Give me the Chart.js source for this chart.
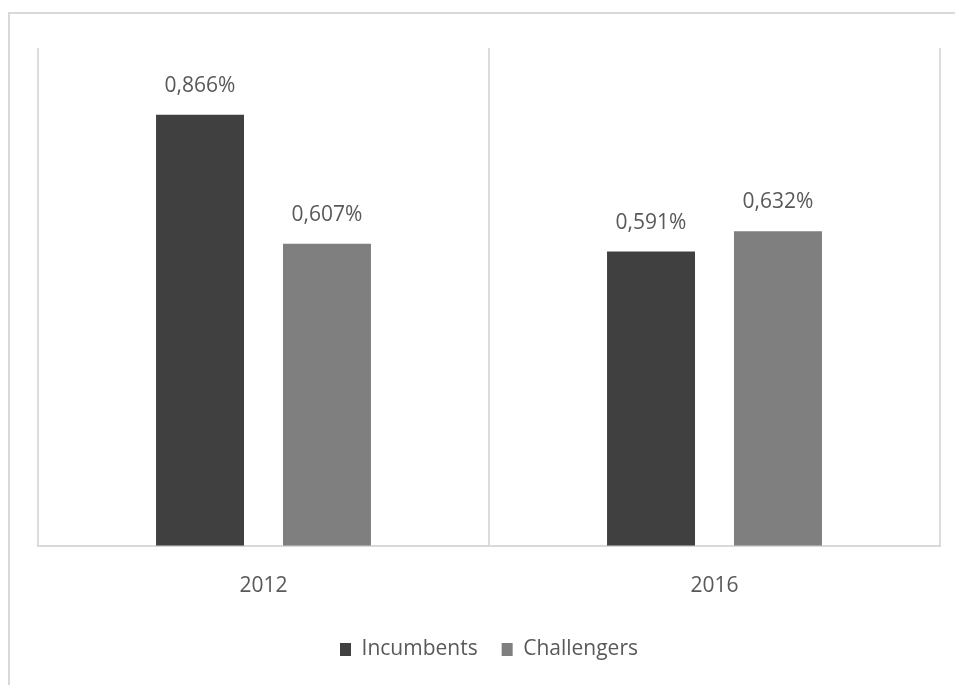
<!DOCTYPE html>
<html>
<head>
<meta charset="utf-8">
<script src="https://cdn.jsdelivr.net/npm/chart.js@4/dist/chart.umd.min.js"></script>
<style>
  html, body { margin: 0; padding: 0; background: #fff; }
  #frame {
    position: absolute; left: 8px; top: 12px; width: 947px; height: 673px;
    border-top: 2px solid #d9d9d9; border-left: 2px solid #d9d9d9;
  }
  #chart { position: absolute; left: 0; top: 0; }
</style>
</head>
<body>
<div id="frame"></div>
<canvas id="chart" width="955" height="685"></canvas>
<script>
// Share values (%) by election year
const years = ['2012', '2016'];
const incumbents = [0.866, 0.591];
const challengers = [0.607, 0.632];

const textColor = '#595959';
const fontFamily = '"Open Sans", sans-serif';

// Value labels above each bar, with a decimal comma
const barLabels = {
    id: 'barLabels',
    afterDatasetsDraw(chart) {
        const ctx = chart.ctx;
        ctx.save();
        ctx.font = '21px ' + fontFamily;
        ctx.fillStyle = textColor;
        ctx.textAlign = 'center';
        ctx.textBaseline = 'middle';
        chart.data.datasets.forEach((ds, i) => {
            chart.getDatasetMeta(i).data.forEach((bar, j) => {
                const text = ds.data[j].toFixed(3).replace('.', ',') + '%';
                ctx.fillText(text, bar.x, bar.y - 29);
            });
        });
        ctx.restore();
    }
};

const ctx = document.getElementById('chart').getContext('2d');
new Chart(ctx, {
    type: 'bar',
    data: {
        labels: years,
        datasets: [
            { label: 'Incumbents', data: incumbents, backgroundColor: '#404040' },
            { label: 'Challengers', data: challengers, backgroundColor: '#7f7f7f' }
        ]
    },
    options: {
        responsive: false,
        animation: false,
        devicePixelRatio: 1,
        categoryPercentage: 0.563,
        barPercentage: 0.693,
        layout: { padding: { left: 38, right: 15, top: 48, bottom: 15 } },
        plugins: {
            tooltip: { enabled: false },
            legend: {
                position: 'bottom',
                labels: {
                    boxWidth: 11,
                    boxHeight: 13,
                    padding: 24,
                    color: textColor,
                    font: { family: fontFamily, size: 21 }
                }
            }
        },
        scales: {
            y: {
                display: false,
                min: 0,
                max: 1
            },
            x: {
                grid: { color: '#dcdcdc', lineWidth: 2, drawTicks: false },
                border: { color: '#d9d9d9', width: 2 },
                ticks: {
                    padding: 28,
                    color: textColor,
                    font: { family: fontFamily, size: 21 }
                },
                afterFit(scale) { scale.height -= 12; }
            }
        }
    },
    plugins: [barLabels]
});
</script>
</body>
</html>
